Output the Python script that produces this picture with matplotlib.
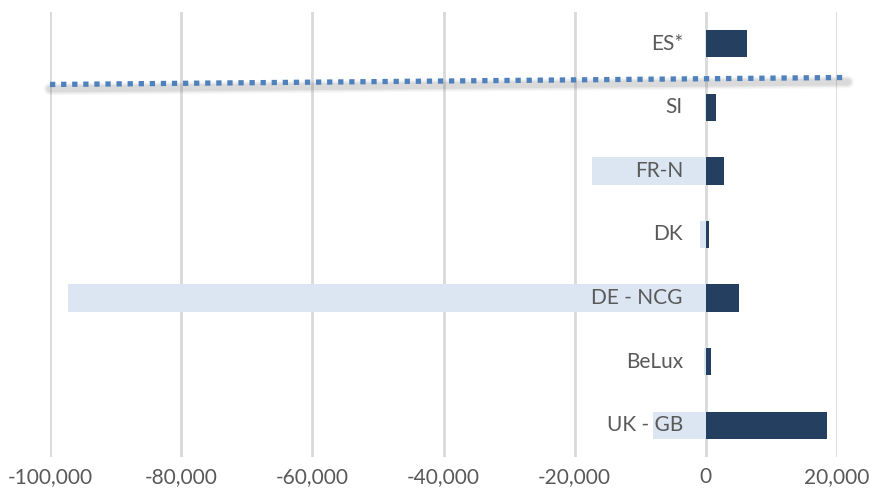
import numpy as np
import matplotlib
matplotlib.use('Agg')
import matplotlib.pyplot as plt
import matplotlib.patheffects as pe
from matplotlib.ticker import FuncFormatter

# zones, bottom to top
zones = ['UK - GB', 'BeLux', 'DE - NCG', 'DK', 'FR-N', 'SI', 'ES*']
outflow = [-8100, -300, -97300, -900, -17400, -100, -200]
inflow = [18400, 800, 5000, 450, 2750, 1600, 6250]

ticks = [-100000, -80000, -60000, -40000, -20000, 0, 20000]

dark = '#253f61'
light = '#dce6f2'
grey_txt = '#595959'

plt.rcParams['font.family'] = ['Lato', 'DejaVu Sans']

fig = plt.figure(figsize=(8.71, 4.97), dpi=100)
ax = fig.add_axes([50/871, 1 - 457/497, (837 - 50)/871, (457 - 12)/497])

y = np.arange(len(zones))
ax.barh(y, outflow, height=0.43, color=light, zorder=2)
ax.barh(y, inflow, height=0.43, color=dark, zorder=3)

# zone names sit just left of zero, inside the plot
for yi, name in zip(y, zones):
    ax.text(-3500, yi, name, ha='right', va='center', fontsize=15,
            color=grey_txt, zorder=4)

ax.set_xlim(-100000, 20000)
ax.set_ylim(-0.5, len(zones) - 0.5)
ax.set_xticks(ticks)
ax.xaxis.set_major_formatter(FuncFormatter(lambda v, p: f'{int(v):,}'))
ax.set_yticks([])
ax.tick_params(axis='x', length=0, pad=7, labelsize=15, labelcolor=grey_txt)
ax.grid(axis='x', color='#d9d9d9', linewidth=2, zorder=0)
for s in ax.spines.values():
    s.set_visible(False)

# dotted separator between SI and ES*, slightly tilted, with soft shadow
sep_x = [-100000, 21650]
sep_y = [5.36, 5.47]
for w, a in [(9, 0.05), (7, 0.07), (5, 0.1)]:
    ax.plot(sep_x, np.array(sep_y) - 0.07, color='#555555', lw=w, alpha=a,
            solid_capstyle='round', clip_on=False, zorder=5)
ax.plot(sep_x, sep_y, color='#4f81bd', lw=3.8, linestyle=(0, (1, 1.1)),
        dash_capstyle='butt', clip_on=False, zorder=6)

fig.savefig('out.png', dpi=100)
